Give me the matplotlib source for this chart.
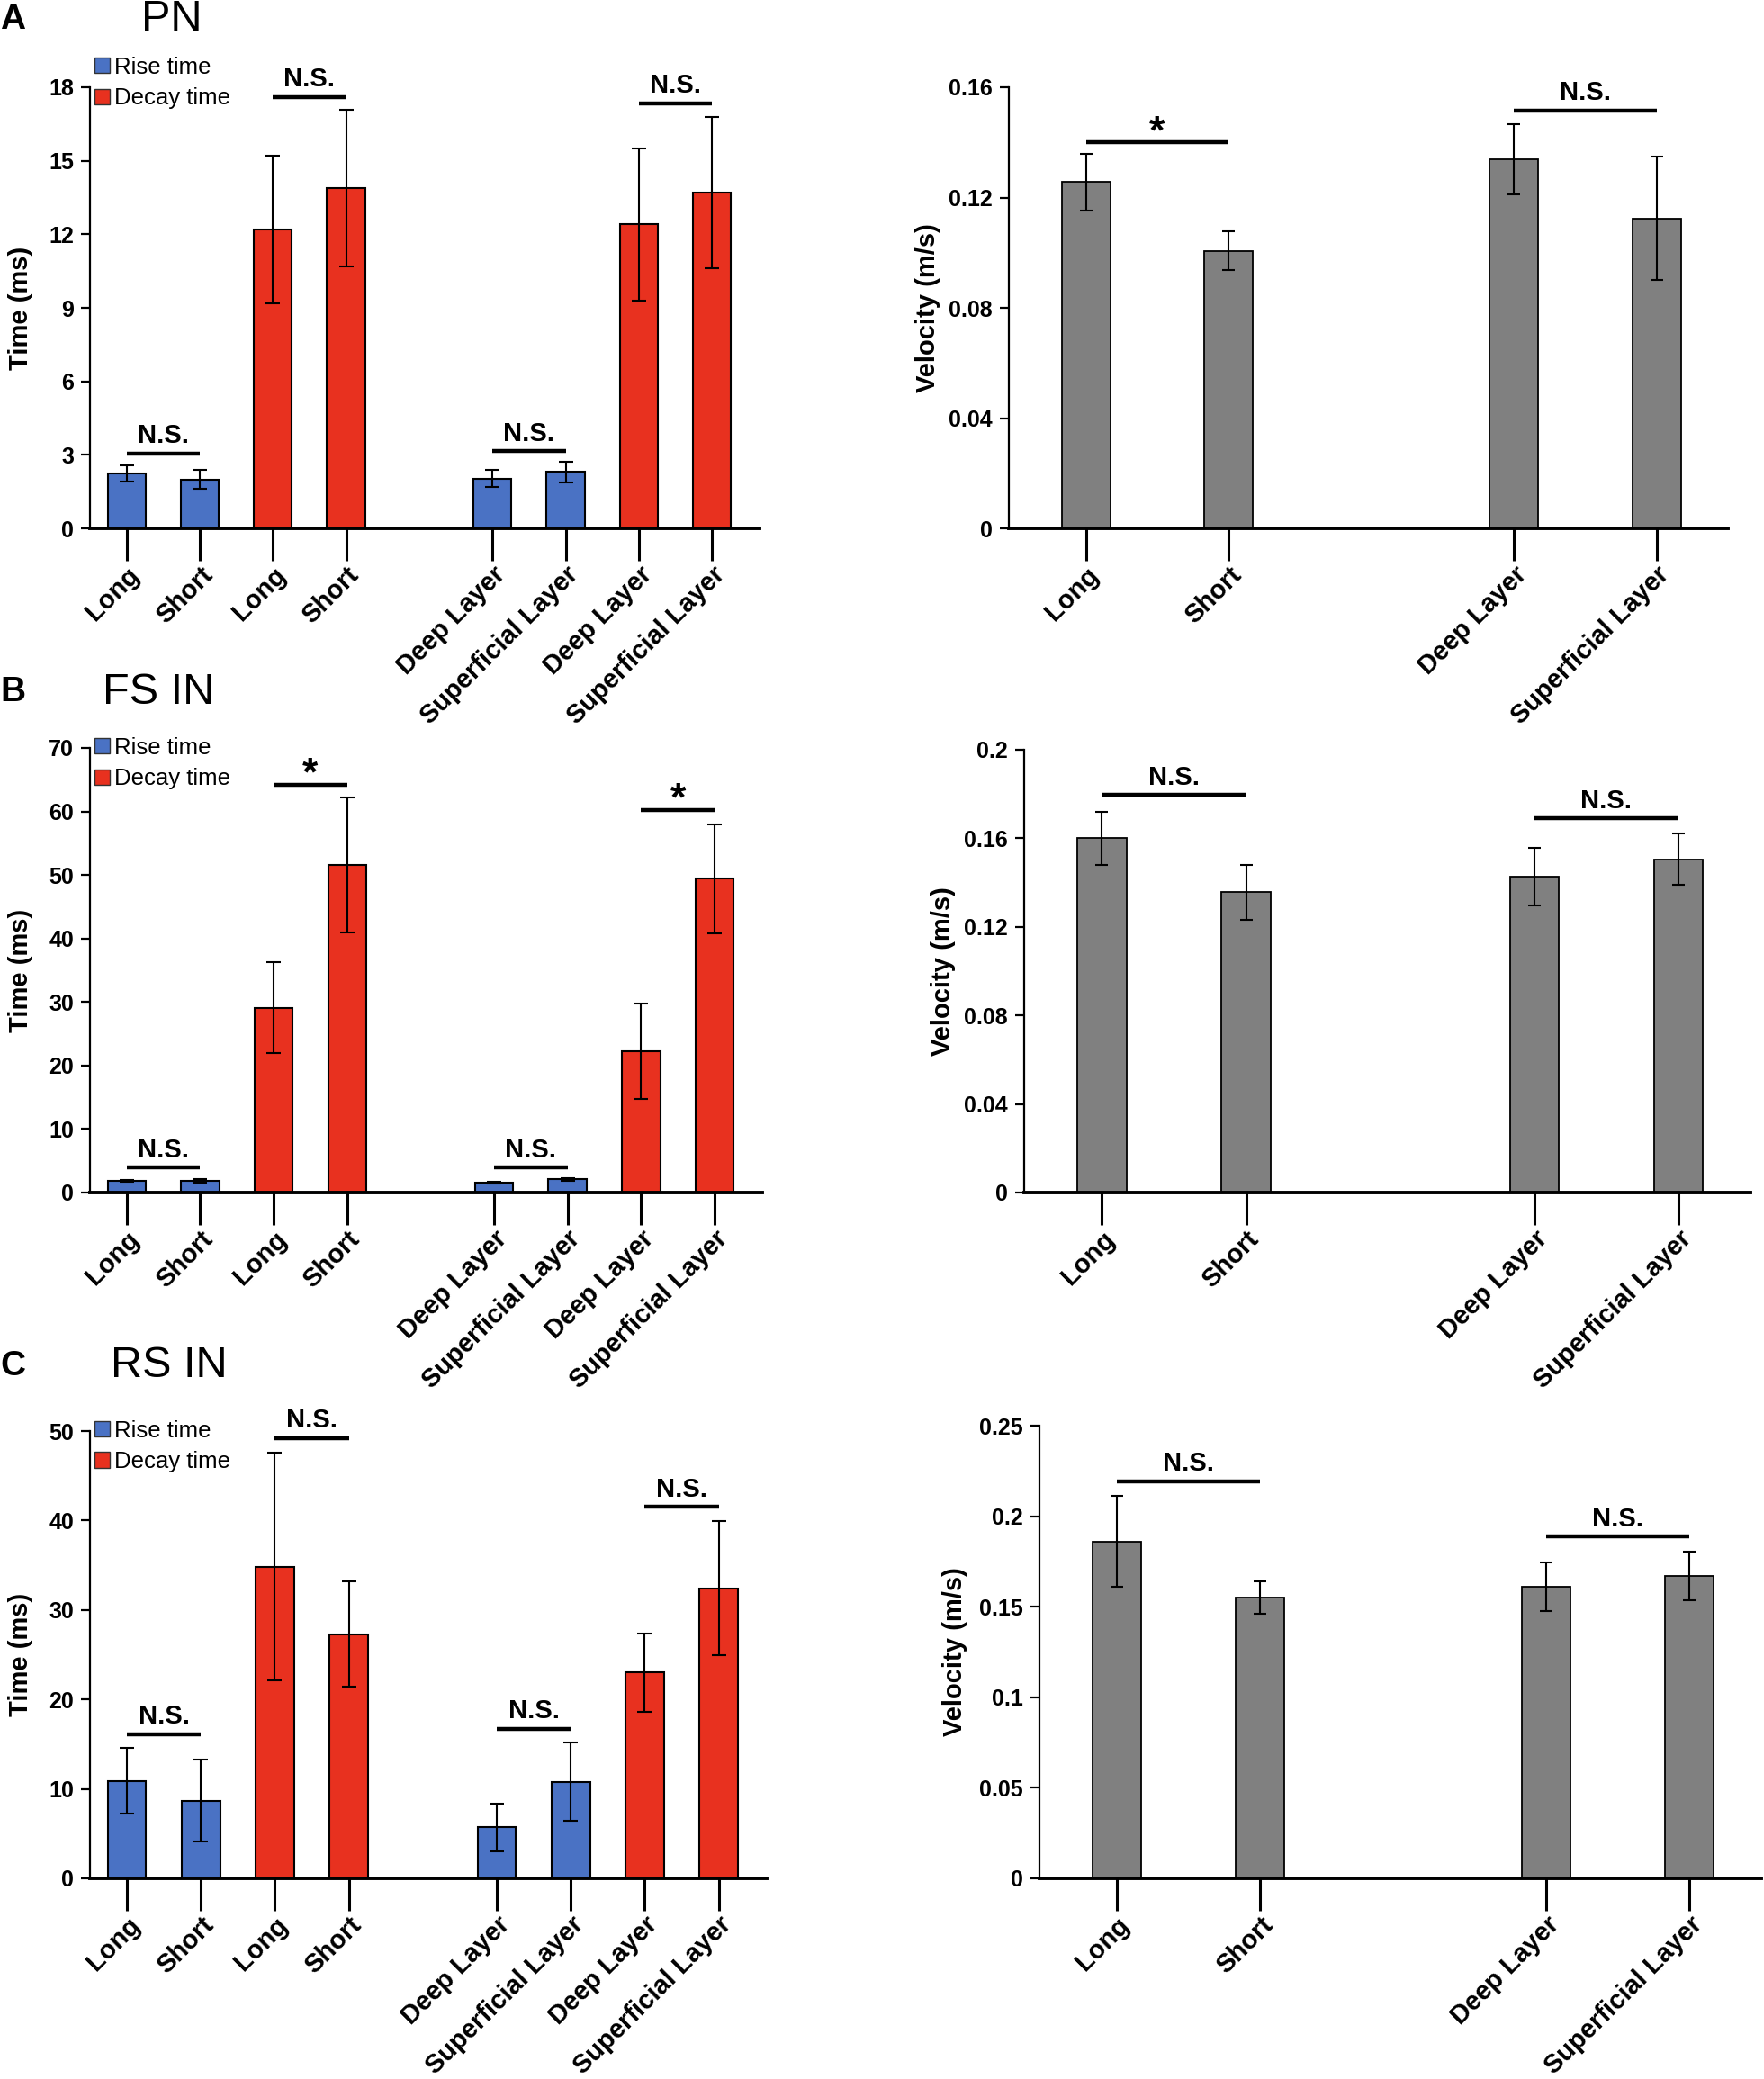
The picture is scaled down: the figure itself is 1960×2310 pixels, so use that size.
import matplotlib
matplotlib.use('Agg')
import matplotlib.pyplot as plt
from matplotlib.patches import Patch
import numpy as np

plt.rcParams['font.family'] = ['Liberation Sans', 'DejaVu Sans']

# ---- data ----
time_labels = ['Long', 'Short', 'Long', 'Short',
               'Deep Layer', 'Superficial Layer', 'Deep Layer', 'Superficial Layer']
vel_labels = ['Long', 'Short', 'Deep Layer', 'Superficial Layer']
time_kind = ['rise', 'rise', 'decay', 'decay', 'rise', 'rise', 'decay', 'decay']

# PN
pn_time = [2.25, 2.0, 12.2, 13.9, 2.03, 2.3, 12.4, 13.7]
pn_time_err = [0.33, 0.4, 3.0, 3.2, 0.34, 0.43, 3.1, 3.1]
pn_vel = [0.1257, 0.1007, 0.134, 0.1124]
pn_vel_err = [0.0103, 0.0069, 0.0127, 0.0223]
# FS IN
fs_time = [1.9, 1.85, 29.1, 51.6, 1.58, 2.06, 22.2, 49.4]
fs_time_err = [0.15, 0.25, 7.2, 10.6, 0.1, 0.2, 7.5, 8.6]
fs_vel = [0.160, 0.1357, 0.1425, 0.1505]
fs_vel_err = [0.012, 0.0124, 0.013, 0.0115]
# RS IN
rs_time = [10.9, 8.7, 34.85, 27.3, 5.7, 10.8, 23.0, 32.4]
rs_time_err = [3.7, 4.6, 12.7, 5.9, 2.7, 4.4, 4.4, 7.5]
rs_vel = [0.186, 0.155, 0.161, 0.167]
rs_vel_err = [0.025, 0.009, 0.0133, 0.0135]

# significance brackets: (bar i, bar j, height, label)
pn_time_sig = [(0, 1, 3.06, 'N.S.'), (2, 3, 17.6, 'N.S.'), (4, 5, 3.15, 'N.S.'), (6, 7, 17.35, 'N.S.')]
pn_vel_sig = [(0, 1, 0.140, '*'), (2, 3, 0.1516, 'N.S.')]
fs_time_sig = [(0, 1, 3.9, 'N.S.'), (2, 3, 64.2, '*'), (4, 5, 3.9, 'N.S.'), (6, 7, 60.2, '*')]
fs_vel_sig = [(0, 1, 0.1796, 'N.S.'), (2, 3, 0.169, 'N.S.')]
rs_time_sig = [(0, 1, 16.1, 'N.S.'), (2, 3, 49.2, 'N.S.'), (4, 5, 16.7, 'N.S.'), (6, 7, 41.5, 'N.S.')]
rs_vel_sig = [(0, 1, 0.2193, 'N.S.'), (2, 3, 0.1888, 'N.S.')]

time_pos = [0, 1, 2, 3, 5, 6, 7, 8]
vel_pos = [0, 1, 3, 4]

BLUE = '#4A72C4'
RED = '#E8311F'
GRAY = '#808080'

W, H = 1960, 2310
fig = plt.figure(figsize=(W / 100, H / 100), dpi=100)


def add_ax(left, right, top, bottom):
    return fig.add_axes([left / W, 1 - bottom / H, (right - left) / W, (bottom - top) / H])


def style(ax, ymax, yticks, labels_x, pos, ylabel, label_off_px, width_px):
    ax.set_ylim(0, ymax)
    ax.set_yticks(yticks)
    ax.set_yticklabels(['%g' % t for t in yticks], fontsize=18, fontweight='bold')
    ax.set_xticks(pos)
    ax.set_xticklabels(labels_x, rotation=45, ha='right', rotation_mode='anchor',
                       fontsize=21, fontweight='bold')
    ax.spines['top'].set_visible(False)
    ax.spines['right'].set_visible(False)
    ax.spines['bottom'].set_linewidth(2.8)
    ax.spines['left'].set_linewidth(1.6)
    ax.tick_params(axis='x', direction='out', length=26, width=2.2, pad=1)
    ax.tick_params(axis='y', direction='out', length=7, width=1.6, pad=6)
    ax.set_ylabel(ylabel, fontsize=21, fontweight='bold')
    ax.yaxis.set_label_coords(-label_off_px / width_px, 0.5)


def sig(ax, pos, items, fs_ns=21, fs_star=32):
    for i, j, y, s in items:
        ax.plot([pos[i], pos[j]], [y, y], color='black', lw=3.2, clip_on=False,
                solid_capstyle='butt')
        if s == '*':
            ax.annotate(s, ((pos[i] + pos[j]) / 2, y), xytext=(0, -7), textcoords='offset points',
                        ha='center', va='bottom', fontsize=fs_star, fontweight='bold',
                        annotation_clip=False)
        else:
            ax.annotate(s, ((pos[i] + pos[j]) / 2, y), xytext=(0, 4), textcoords='offset points',
                        ha='center', va='bottom', fontsize=fs_ns, fontweight='bold',
                        annotation_clip=False)


def time_panel(box, vals, errs, ymax, yticks, sigs, leg_y):
    left, right, top, bottom = box
    ax = add_ax(left, right, top, bottom)
    colors = [BLUE if k == 'rise' else RED for k in time_kind]
    ax.bar(time_pos, vals, width=0.52, color=colors, edgecolor='black', linewidth=1.5,
           yerr=errs, error_kw=dict(ecolor='black', elinewidth=1.5, capsize=6, capthick=1.5))
    ax.set_xlim(-0.5, 8.65)
    style(ax, ymax, yticks, time_labels, time_pos, 'Time (ms)', 63, right - left)
    sig(ax, time_pos, sigs)
    handles = [Patch(facecolor=BLUE, edgecolor='#333333', label='Rise time'),
               Patch(facecolor=RED, edgecolor='#333333', label='Decay time')]
    ax.legend(handles=handles, loc='upper left', bbox_to_anchor=(0.0, leg_y), frameon=False,
              fontsize=18.5, handlelength=0.65, handleheight=0.65, handletextpad=0.2,
              labelspacing=0.4, borderaxespad=0.0, borderpad=0.2)
    return ax


def vel_panel(box, vals, errs, ymax, yticks, sigs, off):
    left, right, top, bottom = box
    ax = add_ax(left, right, top, bottom)
    ax.bar(vel_pos, vals, width=0.34, color=GRAY, edgecolor='black', linewidth=1.3,
           yerr=errs, error_kw=dict(ecolor='black', elinewidth=1.5, capsize=5, capthick=1.5))
    ax.set_xlim(-0.54, 4.5)
    style(ax, ymax, yticks, vel_labels, vel_pos, 'Velocity (m/s)', off, right - left)
    sig(ax, vel_pos, sigs)
    return ax


# A: PN
time_panel((100, 844, 97, 587), pn_time, pn_time_err, 18, np.arange(0, 19, 3), pn_time_sig, 1.08)
vel_panel((1121, 1920, 97, 587), pn_vel, pn_vel_err, 0.16, [0, 0.04, 0.08, 0.12, 0.16], pn_vel_sig, 76)
# B: FS IN
time_panel((100, 847, 831, 1325), fs_time, fs_time_err, 70, np.arange(0, 71, 10), fs_time_sig, 1.035)
vel_panel((1138, 1945, 833, 1325), fs_vel, fs_vel_err, 0.2, [0, 0.04, 0.08, 0.12, 0.16, 0.2], fs_vel_sig, 76)
# C: RS IN
time_panel((100, 852, 1590, 2087), rs_time, rs_time_err, 50, np.arange(0, 51, 10), rs_time_sig, 1.035)
vel_panel((1155, 1957, 1584, 2087), rs_vel, rs_vel_err, 0.25, [0, 0.05, 0.1, 0.15, 0.2, 0.25], rs_vel_sig, 80)

# panel letters and titles
for letter, title, yc, tx in [('A', 'PN', 22, 191), ('B', 'FS IN', 769, 176), ('C', 'RS IN', 1518, 188)]:
    fig.text(14 / W, 1 - yc / H, letter, fontsize=28, fontweight='bold', ha='center', va='center')
    fig.text(tx / W, 1 - yc / H, title, fontsize=35, ha='center', va='center')

fig.savefig('out.png', dpi=100)
